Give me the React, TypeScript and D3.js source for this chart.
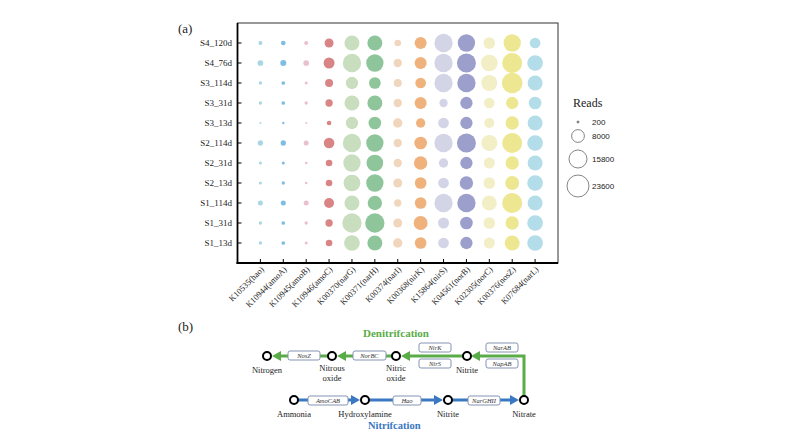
import React from "react";
import * as d3 from "d3";

const samples = ["S4_120d", "S4_76d", "S3_114d", "S3_31d", "S3_13d", "S2_114d", "S2_31d", "S2_13d", "S1_114d", "S1_31d", "S1_13d"];
const genes = ["K10535(hao)", "K10944(amoA)", "K10945(amoB)", "K10946(amoC)", "K00370(narG)", "K00371(narH)", "K00374(narI)", "K00368(nirK)", "K15864(nirS)", "K04561(norB)", "K02305(norC)", "K00376(nosZ)", "K07684(narL)"];
const geneColors = ["#a9d6e5", "#7fbde4", "#e9c0cf", "#d98585", "#c9ddbf", "#8fc59b", "#f1d6be", "#efb27c", "#d3d5e6", "#9c9ecc", "#f2eec6", "#eee791", "#b3dde8"];

const readsS4_120d = [780, 1060, 780, 3950, 10970, 10970, 2170, 7020, 16390, 14650, 6640, 14650, 5550];
const readsS4_76d = [1570, 1760, 1570, 5900, 16390, 14650, 3390, 7020, 16390, 17600, 13550, 19500, 11970];
const readsS3_114d = [540, 660, 440, 3120, 7420, 6640, 3120, 5550, 16390, 16390, 12480, 20830, 10970];
const readsS3_31d = [540, 660, 540, 2620, 10970, 10970, 3390, 7020, 3390, 7420, 5550, 7420, 7820];
const readsS3_13d = [200, 270, 200, 1060, 7420, 7820, 4250, 4250, 5550, 7420, 4880, 8670, 10970];
const readsS2_114d = [1390, 1390, 1220, 5550, 16390, 14650, 3390, 7820, 16390, 17600, 12480, 19500, 11970];
const readsS2_31d = [440, 440, 350, 2170, 14650, 13550, 3390, 8670, 4250, 7420, 5900, 8670, 10970];
const readsS2_13d = [440, 540, 350, 2170, 13550, 14650, 3950, 6640, 5550, 8670, 6640, 9560, 11970];
const readsS1_114d = [1220, 1220, 1220, 4880, 10970, 10020, 2620, 6640, 16390, 16390, 10970, 19500, 10970];
const readsS1_31d = [540, 660, 540, 2620, 18230, 18230, 3950, 9560, 5900, 7820, 6640, 8670, 11970];
const readsS1_13d = [540, 660, 440, 2170, 11970, 10970, 4250, 6640, 5550, 7420, 5900, 10970, 11970];

const readsBySample = [readsS4_120d, readsS4_76d, readsS3_114d, readsS3_31d, readsS3_13d, readsS2_114d, readsS2_31d, readsS2_13d, readsS1_114d, readsS1_31d, readsS1_13d];

const legendBreaks = [200, 8000, 15800, 23600];

// Diagram (b) layout
const topNodes = [
  { name: ["Nitrogen"], x: 267 },
  { name: ["Nitrous", "oxide"], x: 332 },
  { name: ["Nitric", "oxide"], x: 396 },
  { name: ["Nitrite"], x: 467 },
];
const bottomNodes = [
  { name: ["Ammonia"], x: 294 },
  { name: ["Hydroxylamine"], x: 365 },
  { name: ["Nitrite"], x: 448 },
  { name: ["Nitrate"], x: 524 },
];

const SERIF = "'Liberation Serif', 'Times New Roman', serif";
const SANS = "'Liberation Sans', Arial, sans-serif";

function Arrow({ points, color }: { points: [number, number][]; color: string }) {
  const n = points.length;
  const [tx, ty] = points[n - 1];
  const [px, py] = points[n - 2];
  const dx = tx - px, dy = ty - py;
  const len = Math.hypot(dx, dy);
  const ux = dx / len, uy = dy / len;
  const hl = 9, hw = 5;
  const bx = tx - ux * hl, by = ty - uy * hl;
  const pts = points.slice(0, n - 1).concat([[bx + ux * 1, by + uy * 1]]);
  const line = d3.line()(pts as [number, number][]) || "";
  const head = `M${tx},${ty}L${bx - uy * hw},${by + ux * hw}L${bx + uy * hw},${by - ux * hw}Z`;
  return (
    <g>
      <path d={line} fill="none" stroke={color} strokeWidth={3} />
      <path d={head} fill={color} />
    </g>
  );
}

function Box({ x0, x1, y0, y1, label }: { x0: number; x1: number; y0: number; y1: number; label: string }) {
  return (
    <g>
      <rect x={x0} y={y0} width={x1 - x0} height={y1 - y0} rx={2} fill="#fff" stroke="#8593b3" strokeWidth={1} />
      <text x={(x0 + x1) / 2} y={(y0 + y1) / 2 + 2.3} textAnchor="middle" fontFamily={SERIF} fontStyle="italic" fontSize={6.5} fill="#333">{label}</text>
    </g>
  );
}

export default function App() {
  const left = 237.5, right = 558, top = 23, bottom = 263;
  const x = d3.scalePoint<string>().domain(genes).range([left, right]).padding(1);
  const y = d3.scalePoint<string>().domain(samples).range([top, bottom]).padding(1);
  const r = d3.scaleSqrt().domain([0, 23600]).range([0, 11]);
  const color = d3.scaleOrdinal<string, string>().domain(genes).range(geneColors);

  const legendY = [122, 136, 159, 186];
  const green = "#5aac48";
  const blue = "#3a78c2";
  const ty = 356, by = 400;

  return (
    <svg width={793} height={430} style={{ position: "absolute", left: 0, top: 0, background: "#fff" }}>
      <text x={178} y={33} fontFamily={SERIF} fontSize={13} fill="#222">(a)</text>
      <text x={178} y={331} fontFamily={SERIF} fontSize={13} fill="#222">(b)</text>

      {/* bubbles */}
      {samples.map((s, i) =>
        genes.map((g, j) => (
          <circle key={s + g} cx={x(g)} cy={y(s)} r={r(readsBySample[i][j])} fill={color(g)} />
        ))
      )}

      {/* frame */}
      <rect x={left} y={top} width={right - left} height={bottom - top} fill="none" stroke="#333" strokeWidth={1} />
      <line x1={left} x2={left} y1={top} y2={bottom + 1} stroke="#000" strokeWidth={1.8} />
      <line x1={left - 1} x2={right} y1={bottom} y2={bottom} stroke="#000" strokeWidth={1.8} />

      {/* y ticks + labels */}
      {samples.map((s) => (
        <g key={s}>
          <line x1={left} x2={left + 4} y1={y(s)} y2={y(s)} stroke="#000" strokeWidth={1} />
          <text x={232} y={(y(s) as number) + 3} textAnchor="end" fontFamily={SERIF} fontSize={9} fill="#222">{s}</text>
        </g>
      ))}

      {/* x ticks + labels */}
      {genes.map((g) => (
        <g key={g}>
          <line x1={x(g)} x2={x(g)} y1={bottom} y2={bottom - 4} stroke="#000" strokeWidth={1} />
          <text transform={`translate(${(x(g) as number) + 4},${bottom + 7}) rotate(-45)`} textAnchor="end" fontFamily={SERIF} fontSize={8.5} fill="#222">{g}</text>
        </g>
      ))}

      {/* legend */}
      <text x={573} y={107} fontFamily={SERIF} fontSize={12} fill="#222">Reads</text>
      {legendBreaks.map((v, i) => (
        <g key={v}>
          <circle cx={578} cy={legendY[i]} r={r(v)} fill={i === 0 ? "#999" : "none"} stroke="#666" strokeWidth={0.8} />
          <text x={592} y={legendY[i] + 3} fontFamily={SANS} fontSize={8} fill="#222">{v}</text>
        </g>
      ))}

      {/* diagram (b) */}
      <text x={363} y={337} fontFamily={SERIF} fontWeight="bold" fontSize={11} fill={green}>Denitrifcation</text>
      <text x={368} y={429} fontFamily={SERIF} fontWeight="bold" fontSize={10.5} fill={blue}>Nitrifcation</text>

      <Arrow points={[[524, by - 4], [524, ty], [471, ty]]} color={green} />
      <Arrow points={[[463, ty], [401, ty]]} color={green} />
      <Arrow points={[[392, ty], [337, ty]]} color={green} />
      <Arrow points={[[328, ty], [272, ty]]} color={green} />

      <Arrow points={[[298, by], [360, by]]} color={blue} />
      <Arrow points={[[369, by], [443, by]]} color={blue} />
      <Arrow points={[[452, by], [519, by]]} color={blue} />

      <Box x0={486} x1={518} y0={343} y1={352} label="NarAB" />
      <Box x0={486} x1={518} y0={359} y1={368} label="NapAB" />
      <Box x0={419} x1={451} y0={343} y1={352} label="NirK" />
      <Box x0={419} x1={451} y0={359} y1={368} label="NirS" />
      <Box x0={353} x1={386} y0={351} y1={360} label="NorBC" />
      <Box x0={288} x1={320} y0={351} y1={360} label="NosZ" />
      <Box x0={308} x1={348} y0={396} y1={405} label="AmoCAB" />
      <Box x0={393} x1={421} y0={396} y1={405} label="Hao" />
      <Box x0={468} x1={500} y0={396} y1={405} label="NarGHII" />

      {topNodes.map((n) => (
        <g key={"t" + n.x}>
          <circle cx={n.x} cy={ty} r={4} fill="#fff" stroke="#000" strokeWidth={2} />
          {n.name.map((t, k) => (
            <text key={t} x={n.x} y={n.name.length > 1 ? 371 + k * 10 : 373} textAnchor="middle" fontFamily={SERIF} fontSize={8.5} fill="#222">{t}</text>
          ))}
        </g>
      ))}
      {bottomNodes.map((n) => (
        <g key={"b" + n.x}>
          <circle cx={n.x} cy={by} r={4} fill="#fff" stroke="#000" strokeWidth={2} />
          <text x={n.x} y={417} textAnchor="middle" fontFamily={SERIF} fontSize={8.5} fill="#222">{n.name[0]}</text>
        </g>
      ))}
    </svg>
  );
}
